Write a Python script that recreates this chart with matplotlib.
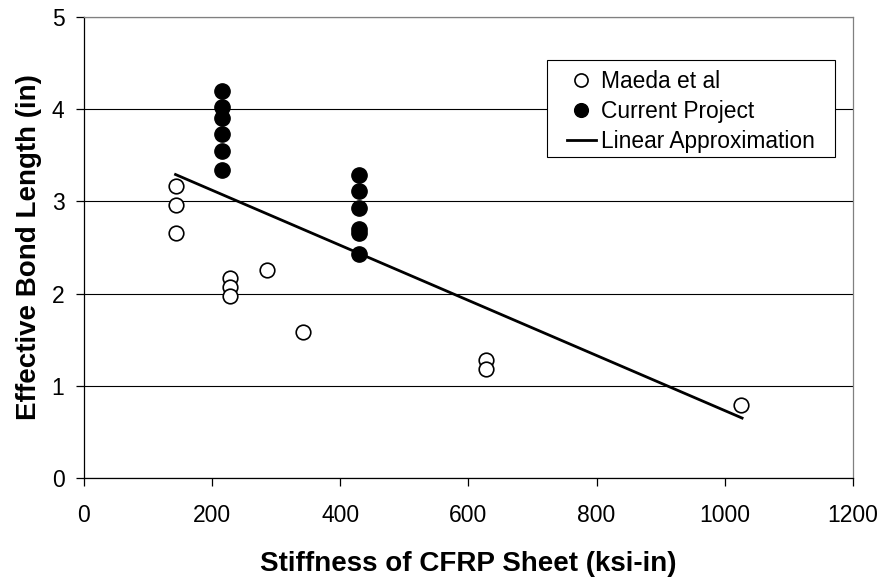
import numpy as np
import matplotlib
matplotlib.use("Agg")
import matplotlib.pyplot as plt
from matplotlib.patches import Rectangle

plt.rcParams["font.family"] = ["Liberation Sans", "DejaVu Sans"]

# Maeda et al data
maeda_x = [143, 143, 143, 228, 228, 228, 285, 342, 627, 627, 1026]
maeda_y = [3.16, 2.96, 2.66, 2.17, 2.07, 1.97, 2.26, 1.58, 1.28, 1.18, 0.79]

# current project
proj_x = [215, 215, 215, 215, 215, 215, 429, 429, 429, 429, 429, 429]
proj_y = [4.19, 4.02, 3.90, 3.73, 3.55, 3.34, 3.28, 3.11, 2.93, 2.70, 2.66, 2.43]

# linear approximation endpoints
fit_x = [143, 1027]
fit_y = [3.29, 0.65]

fig = plt.figure(figsize=(8.83, 5.78), dpi=100)
ax = fig.add_axes([0.095, 0.173, 0.871, 0.798])

ax.plot(maeda_x, maeda_y, "o", mfc="white", mec="black", mew=1.2, ms=10.5,
        label="Maeda et al", zorder=3)
ax.plot(proj_x, proj_y, "o", mfc="black", mec="black", ms=11,
        label="Current Project", zorder=3)
ax.plot(fit_x, fit_y, "-", color="black", lw=2, label="Linear Approximation", zorder=2)

ax.set_xlim(0, 1200)
ax.set_ylim(0, 5)
ax.set_xticks(np.arange(0, 1201, 200))
ax.set_yticks(np.arange(0, 6, 1))
ax.yaxis.grid(True, color="black", lw=0.8)
ax.set_axisbelow(True)

ax.spines["left"].set_color("black")
ax.spines["bottom"].set_color("black")
ax.spines["top"].set_color("#808080")
ax.spines["right"].set_color("#808080")
for s in ax.spines.values():
    s.set_linewidth(0.9)

ax.tick_params(axis="both", direction="out", length=6, width=0.9, labelsize=16.5)
ax.tick_params(axis="x", pad=13)
ax.tick_params(axis="y", pad=8)

ax.set_xlabel("Stiffness of CFRP Sheet (ksi-in)", fontsize=20, fontweight="bold", labelpad=17)
ax.set_ylabel("Effective Bond Length (in)", fontsize=20, fontweight="bold", labelpad=7)

# legend box drawn separately (wider side padding than matplotlib allows)
ax.add_patch(Rectangle((0.602, 0.696), 0.3745, 0.2104, transform=ax.transAxes,
                       facecolor="white", edgecolor="black", lw=0.8, zorder=4))
leg = ax.legend(loc="upper left", bbox_to_anchor=(0.6277, 0.884), fontsize=16.4,
                frameon=False, handlelength=1.3, handletextpad=0.2, borderpad=0,
                labelspacing=0.31, markerscale=0.9, borderaxespad=0)
leg.set_zorder(5)

fig.savefig("out.png", dpi=100)
